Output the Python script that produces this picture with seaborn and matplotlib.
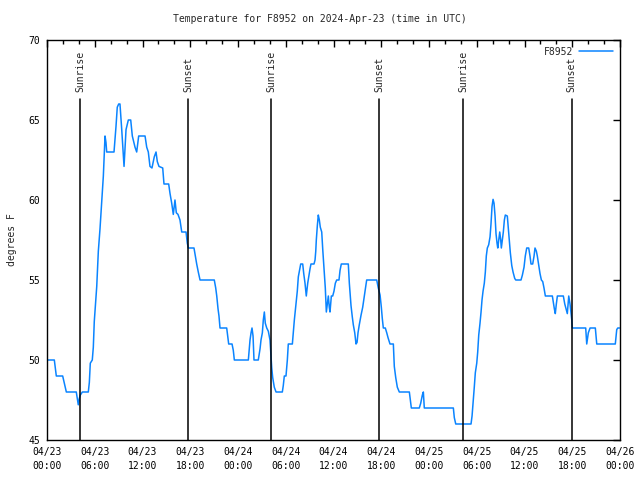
import pandas as pd
import matplotlib
matplotlib.use("Agg")
import matplotlib.pyplot as plt
import matplotlib.dates as mdates
import seaborn as sns

# hours since 2024-04-23 00:00 UTC, and temperature in degrees F
hours = [0.00, 0.92, 1.17, 1.97, 2.43, 3.68, 3.93, 4.06, 4.18, 4.44, 5.19, 5.32, 5.44, 5.69, 5.82,
         5.94, 6.25, 6.45, 6.66, 6.87, 7.08, 7.29, 7.41, 7.50, 8.42, 8.67, 8.83, 9.01, 9.17, 9.39,
         9.68, 9.93, 10.22, 10.52, 10.72, 11.06, 11.27, 11.52, 12.32, 12.53, 12.73, 12.94, 13.19, 13.48,
         13.70, 13.86, 14.07, 14.54, 14.70, 15.29, 15.46, 15.67, 15.87, 16.08, 16.25, 16.46, 16.71,
         16.93, 17.47, 17.63, 17.76, 18.47, 18.81, 19.01, 19.23, 21.02, 21.20, 21.33, 21.49, 21.61,
         21.74, 22.58, 22.71, 22.83, 23.25, 23.41, 23.54, 25.30, 25.51, 25.64, 25.76, 25.89, 26.01,
         26.55, 26.77, 26.89, 27.06, 27.18, 27.31, 27.43, 27.61, 27.81, 28.02, 28.11, 28.24, 28.36,
         28.56, 28.78, 29.57, 29.69, 29.82, 30.03, 30.20, 30.32, 30.83, 30.95, 31.08, 31.29, 31.45,
         31.58, 31.76, 31.88, 32.13, 32.26, 32.42, 32.58, 32.76, 32.92, 33.05, 33.17, 33.55, 33.68,
         33.77, 33.84, 33.97, 34.09, 34.22, 34.34, 34.52, 34.65, 34.81, 34.97, 35.10, 35.22, 35.35,
         35.47, 35.56, 35.73, 35.90, 36.06, 36.23, 36.40, 36.69, 36.82, 36.98, 37.86, 37.99, 38.20,
         38.36, 38.49, 38.67, 38.83, 38.96, 39.08, 39.24, 39.46, 39.67, 39.87, 40.05, 40.17, 41.43,
         41.63, 41.85, 42.01, 42.13, 42.26, 42.51, 42.69, 42.85, 43.10, 43.52, 43.64, 43.82, 44.02,
         44.27, 45.53, 45.65, 45.78, 46.78, 46.96, 47.16, 47.29, 47.41, 51.06, 51.18, 51.36, 53.28,
         53.41, 53.57, 53.69, 53.82, 54.00, 54.12, 54.25, 54.41, 54.54, 54.66, 54.79, 54.95, 55.08,
         55.20, 55.33, 55.50, 55.67, 55.79, 55.92, 56.05, 56.17, 56.30, 56.42, 56.55, 56.64, 56.76,
         56.89, 57.01, 57.09, 57.21, 57.34, 57.47, 57.59, 57.84, 57.97, 58.09, 58.22, 58.40, 58.56,
         58.77, 58.90, 59.56, 59.73, 59.94, 60.10, 60.28, 60.53, 60.69, 60.82, 61.03, 61.20, 61.32,
         61.49, 61.61, 61.79, 61.95, 62.12, 62.29, 62.45, 62.62, 63.50, 63.62, 63.75, 63.87, 64.00,
         64.13, 64.88, 65.06, 65.22, 65.38, 65.56, 65.72, 65.85, 65.94, 66.01, 67.69, 67.82, 68.02,
         68.24, 68.90, 69.08, 71.41, 71.59, 71.72, 71.92]
temps = [50, 50, 49, 49, 48, 48, 47.2, 47.6, 47.8, 48, 48, 48.6, 49.8, 50, 50.8,
         52.4, 54.6, 56.8, 58.2, 59.8, 61.5, 64, 63.6, 63, 63, 64.6, 65.8, 66, 66, 64.4,
         62.1, 64.4, 65, 65, 64, 63.3, 63, 64, 64, 63.3, 63, 62.1, 62, 62.7,
         63, 62.4, 62.1, 62, 61, 61, 60.4, 59.8, 59.1, 60, 59.2, 59.1, 58.75,
         58, 58, 57.3, 57, 57, 56, 55.5, 55, 55, 54.5, 54, 53.2, 52.75,
         52, 52, 51.5, 51, 51, 50.6, 50, 50, 51.25, 51.7, 52, 51.5, 50,
         50, 50.7, 51.25, 51.7, 52.5, 53, 52.3, 52, 51.8, 51.25, 50.5, 49.5, 48.9,
         48.3, 48, 48, 48.4, 49, 49, 50, 51, 51, 51.7, 52.5, 53.5, 54.3,
         55.2, 55.7, 56, 56, 55.4, 54.8, 54, 54.8, 55.3, 55.7, 56, 56, 56.25,
         56.8, 57.5, 58.4, 59.06, 58.75, 58.3, 58, 56.9, 55.7, 54.5, 53, 53.5, 54,
         53.3, 53, 54, 54, 54.3, 54.8, 55, 55, 55.6, 56, 56, 54.8, 53.4,
         52.7, 52.2, 51.7, 51, 51.1, 51.7, 52.2, 52.8, 53.3, 54, 54.6, 55, 55,
         54.5, 54.06, 53.3, 52.6, 52, 52, 51.7, 51.4, 51, 51, 49.6, 48.9, 48.3,
         48, 48, 47.5, 47, 47, 47.3, 47.8, 48, 47, 47, 46.4, 46, 46,
         46.5, 47.5, 48.3, 49.2, 49.8, 50.5, 51.56, 52.3, 53, 53.75, 54.3, 54.8, 55.5,
         56.5, 57, 57.2, 57.7, 58.5, 59.6, 60.04, 59.8, 59, 57.9, 57.3, 57, 57.5,
         58, 57.5, 57, 57.5, 58, 58.75, 59.06, 59, 58.2, 57.5, 56.7, 55.9, 55.5,
         55.1, 55, 55, 55.3, 55.8, 56.5, 57, 57, 56.5, 56, 56, 56.5, 57,
         56.8, 56.5, 55.9, 55.4, 55, 54.9, 54.5, 54, 54, 53.6, 53.2, 52.9, 53.5,
         54, 54, 53.5, 53.2, 52.9, 54, 53.5, 52.9, 52.5, 52, 52, 51, 51.7,
         52, 52, 51, 51, 51.9, 52, 52]

sun_labels = ["Sunrise", "Sunset", "Sunrise", "Sunset", "Sunrise", "Sunset"]
sun_hours = [4.19, 17.76, 28.19, 41.76, 52.32, 65.93]

start = pd.Timestamp("2024-04-23 00:00")
df = pd.DataFrame({"time": start + pd.to_timedelta(hours, unit="h"), "F8952": temps})

sns.set_style("white")
plt.rcParams["font.family"] = ["DejaVu Sans Mono"]
plt.rcParams["font.size"] = 7

fig = plt.figure(figsize=(6.4, 4.8), dpi=100)
ax = fig.add_axes([47 / 640, 40 / 480, 573 / 640, 400 / 480])

sns.lineplot(data=df, x="time", y="F8952", color="#0a84ff", linewidth=1.1, label="F8952", ax=ax)

# sunrise / sunset markers
for h, lab in zip(sun_hours, sun_labels):
    t = start + pd.Timedelta(hours=h)
    ax.plot([t, t], [45, 66.3], color="black", linewidth=1.1)
    ax.text(t, 66.75, lab, rotation=90, ha="center", va="bottom", fontsize=7)

ax.set_xlim(start, start + pd.Timedelta(hours=72))
ax.set_ylim(45, 70)
ax.set_yticks([45, 50, 55, 60, 65, 70])
ax.xaxis.set_major_locator(mdates.HourLocator(byhour=[0, 6, 12, 18]))
ax.xaxis.set_minor_locator(mdates.HourLocator(byhour=range(0, 24, 2)))
ax.xaxis.set_major_formatter(mdates.DateFormatter("%m/%d\n%H:%M"))
for lbl in ax.get_xticklabels():
    lbl.set_linespacing(1.55)

ax.tick_params(axis="both", which="both", direction="in", top=True, right=True,
               colors="black", labelsize=7, width=1)
ax.tick_params(axis="both", which="major", length=5, pad=5)
ax.tick_params(axis="x", which="minor", length=3)
for s in ax.spines.values():
    s.set_color("black")
    s.set_linewidth(1)

ax.set_xlabel("")
ax.set_ylabel("degrees F", fontsize=7, labelpad=8)
fig.suptitle("Temperature for F8952 on 2024-Apr-23 (time in UTC)", y=1 - 19 / 480,
             va="center", fontsize=7)

ax.legend(loc="upper right", frameon=False, markerfirst=False, fontsize=7,
          handlelength=3.5, borderaxespad=0.3, handletextpad=0.6)

fig.savefig("out.png", dpi=100)
